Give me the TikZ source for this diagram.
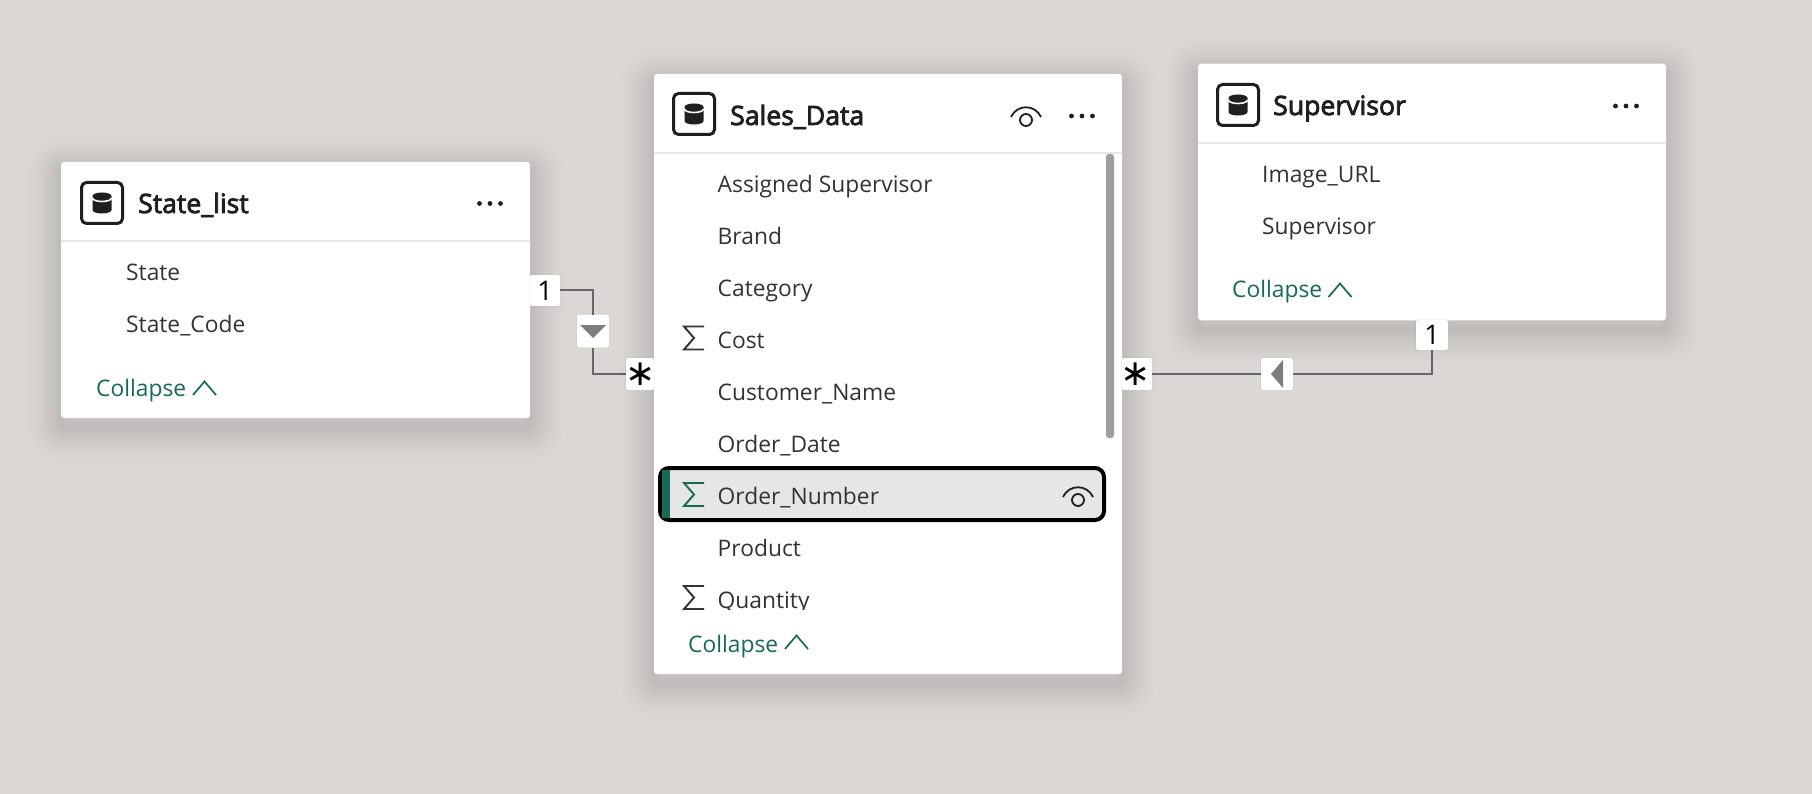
\documentclass[tikz,border=0pt]{standalone}
\usepackage{fontspec}
\setmainfont{Open Sans}
\newfontfamily\titlefont[FakeBold=3]{Open Sans}
\newfontfamily\symbfont{DejaVu Sans}
\definecolor{canvas}{HTML}{DAD7D4}
\definecolor{rowgray}{HTML}{E6E6E6}
\definecolor{rule}{HTML}{E8E8E8}
\definecolor{ink}{HTML}{1F1F1F}
\definecolor{rowink}{HTML}{333333}
\definecolor{pine}{HTML}{156B55}
\definecolor{wire}{HTML}{666666}
\tikzset{
  shade/.style = {preaction={draw=black, draw opacity=0.009, line width=#1, line join=round,
                  transform canvas={yshift=-9pt}}},
  card/.style = {rectangle, fill=white, rounded corners=3pt, inner sep=0pt, outer sep=0pt,
                 shade=4pt, shade=8pt, shade=12pt, shade=16pt, shade=20pt, shade=24pt, shade=28pt, shade=32pt,
                 shade=37pt, shade=42pt, shade=48pt, shade=54pt, shade=61pt, shade=69pt},
  rowtext/.style = {anchor=base west, inner sep=0pt, text=rowink, font=\fontsize{22.8}{28}\selectfont},
  titletext/.style = {anchor=base west, inner sep=0pt, text=ink, font=\fontsize{26.6}{30}\titlefont},
  collapse/.style = {anchor=base west, inner sep=0pt, text=pine, font=\fontsize{22.8}{28}\selectfont},
  badge/.style = {rectangle, fill=white, rounded corners=2pt, inner sep=0pt, outer sep=0pt,
                  preaction={draw=black, draw opacity=0.03, line width=2pt},
                  font=\fontsize{27}{30}\selectfont},
  manymark/.style = {font=\fontsize{36}{36}\symbfont},
  link/.style = {draw=wire, line width=2pt},
  dbicon/.pic = {
    \draw[ink, line width=3pt, rounded corners=5pt] (-20.5,-20.5) rectangle (20.5,20.5);
    \fill[ink] (-9.5,-7) arc (180:360:9.5 and 3.5) -- (9.5,7) arc (0:180:9.5 and 3.5) -- cycle;
    \draw[white, line width=1.6pt] (-9.5,-5) arc (180:0:9.5 and 3.5);
  },
  moredots/.pic = {
    \foreach \dx in {-10.5,0,10.5} \fill[ink] (\dx,0) circle (2.4);
  },
  eyeicon/.pic = {
    \draw[ink, line width=1.8pt] (-15,1) .. controls (-9,-12) and (9,-12) .. (15,1);
    \draw[ink, line width=1.8pt] (0,4) circle (6);
  },
  sigmaicon/.pic = {
    \draw[line width=1.9pt, miter limit=10] (10,-11.5) -- (-10,-11.5) -- (0,0) -- (-10,11.5) -- (10,11.5);
  },
  upchevron/.pic = {
    \draw[pine, line width=1.7pt] (-11.5,7) -- (0,-6.5) -- (11.5,7);
  }
}
\begin{document}
\begin{tikzpicture}[x=1pt, y=-1pt]
	\def \rowstep{52}
	\useasboundingbox (0,0) rectangle (1812,794);
	\fill[canvas] (0,0) rectangle (1812,794);

	% Tables
	\node[card, minimum width=469, minimum height=256] (statelist) at (295.5,290) {};
	\node[card, minimum width=468, minimum height=600] (salesdata) at (888,374) {};
	\node[card, minimum width=468, minimum height=256.5] (supervisor) at (1432,192) {};

	% Header rules
	\draw[rule, line width=2pt] (statelist.west |- 0,241) -- (statelist.east |- 0,241);
	\draw[rule, line width=2pt] (salesdata.west |- 0,153) -- (salesdata.east |- 0,153);
	\draw[rule, line width=2pt] (supervisor.west |- 0,143.5) -- (supervisor.east |- 0,143.5);

	% State_list
	\pic at (102,203) {dbicon};
	\node[titletext] (statetitle) at (138,213) {State\_list};
	\pic at (490,203.5) {moredots};
	\node[rowtext] (state1) at (126,280) {State};
	\node[rowtext] (state2) at (126,332) {State\_Code};
	\node[collapse] (statecollapse) at (96,396) {Collapse};
	\pic at (204.5,388) {upchevron};

	% Sales_Data
	\pic at (694,114) {dbicon};
	\node[titletext] (salestitle) at (730,125) {Sales\_Data};
	\pic at (1026,116) {eyeicon};
	\pic at (1082,116) {moredots};
	\fill[black!38!white, rounded corners=3pt] (1106,154) rectangle (1114,438);

	\node[rectangle, fill=rowgray, draw=black, line width=4pt, rounded corners=9pt, inner sep=0pt,
	      minimum width=444, minimum height=52] (ordernumber) at (882,494) {};
	\fill[pine] (662,470) rectangle (670,518);

	\begin{scope}
		\clip (654,152) rectangle (1106,609);
		\foreach \label [count=\i] in {Assigned Supervisor, Brand, Category, Cost, Customer\_Name, Order\_Date, Order\_Number, Product, Quantity}
			\node[rowtext] (sales\i) at (717.5,{192.5+(\i-1)*\rowstep}) {\label};
	\end{scope}

	\pic[rowink] at (694,338) {sigmaicon};
	\pic[pine] at (694,494.5) {sigmaicon};
	\pic[rowink] at (694,597.5) {sigmaicon};
	\pic at (1078,496) {eyeicon};
	\node[collapse] (salescollapse) at (688,652) {Collapse};
	\pic at (796.5,642) {upchevron};

	% Supervisor
	\pic at (1238,105) {dbicon};
	\node[titletext] (suptitle) at (1273,115) {Supervisor};
	\pic at (1626,106) {moredots};
	\node[rowtext] (sup1) at (1262,183) {Image\_URL};
	\node[rowtext] (sup2) at (1262,235) {Supervisor};
	\node[collapse] (supcollapse) at (1232,298) {Collapse};
	\pic at (1340,290) {upchevron};

	% Relationship ends
	\node[badge, minimum width=30, minimum height=31] (oneleft) at (545,290.5) {1};
	\node[badge, minimum width=32, minimum height=33] (dirleft) at (593,331) {};
	\node[badge, minimum width=28, minimum height=32] (manyleft) at (640,374) {};
	\node[manymark] (manyleftmark) at (641,374.5) {\makebox[0pt]{∗}};
	\node[badge, minimum width=30, minimum height=32] (manyright) at (1137,374) {};
	\node[manymark] (manyrightmark) at (1136,374.5) {\makebox[0pt]{∗}};
	\node[badge, minimum width=32, minimum height=32] (dirright) at (1277,374) {};
	\node[badge, minimum width=32, minimum height=30] (oneright) at (1432,335) {1};

	% Connectors
	\draw[link] (oneleft.east) -| (dirleft.north);
	\draw[link] (dirleft.south) |- (manyleft.west);
	\draw[link] (manyright.east) -- (dirright.west);
	\draw[link] (dirright.east) -| (oneright.south);

	% Direction arrows
	\fill[wire!85!white] (dirleft.center) ++(-13,-6) -- ++(26,0) -- ++(-13,13) -- cycle;
	\fill[wire!85!white] (dirright.center) ++(6,-14) -- ++(0,28) -- ++(-12,-14) -- cycle;
\end{tikzpicture}
\end{document}
